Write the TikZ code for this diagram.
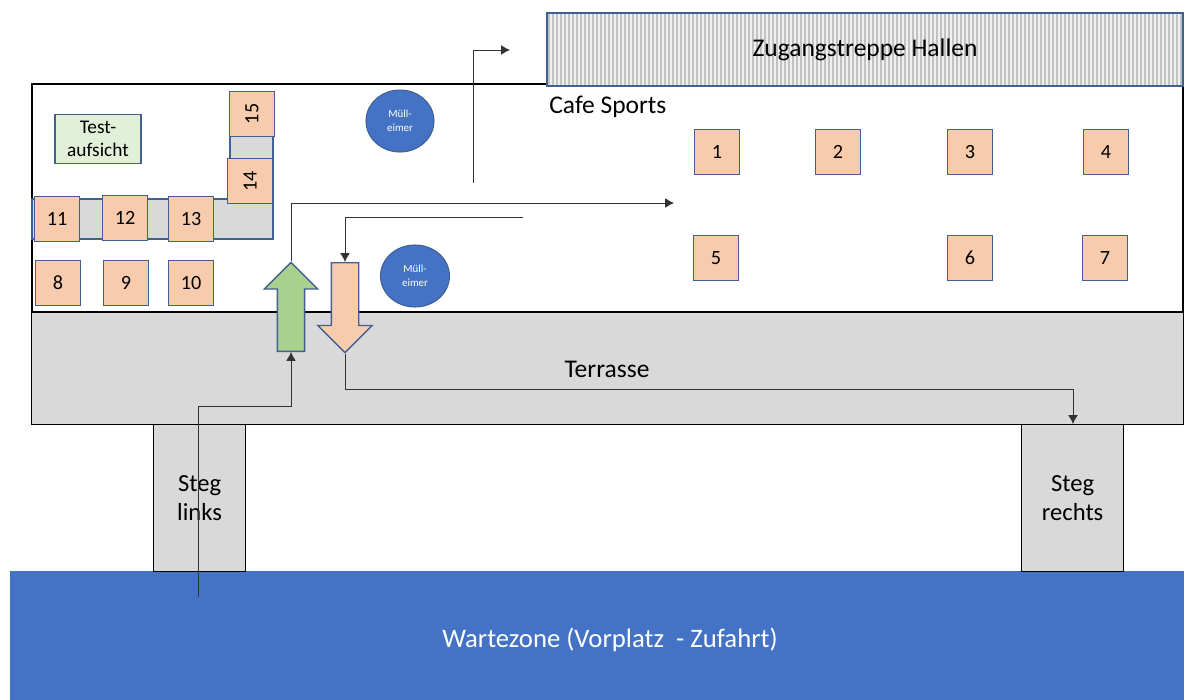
\documentclass[tikz,border=0pt]{standalone}
\usepackage{fontspec}
\setmainfont{Carlito}
\usetikzlibrary{shapes.geometric,shapes.arrows,arrows.meta}
\definecolor{rand}{HTML}{41608F}
\definecolor{tisch}{HTML}{F8CBAD}
\definecolor{grau}{HTML}{D9D9D9}
\definecolor{blau}{HTML}{4472C4}
\definecolor{gruen}{HTML}{A9D18E}
\definecolor{hellgruen}{HTML}{E2F0D9}
\definecolor{linie}{HTML}{333333}
\tikzset{
  zone/.style={draw=black,line width=0.7pt,fill=grau,inner sep=0pt,anchor=north west},
  steg/.style={zone,minimum width=1.84cm,minimum height=2.94cm,align=center,font=\fontsize{14}{17}\selectfont},
  titel/.style={font=\fontsize{14.5}{17}\selectfont},
  tisch/.style={draw=rand,line width=0.8pt,fill=tisch,minimum size=0.9cm,inner sep=0pt,font=\fontsize{11.5}{14}\selectfont},
  eimer/.style={ellipse,draw=rand,line width=0.6pt,fill=blau,text=white,inner sep=0pt,
    minimum width=1.38cm,minimum height=1.24cm,align=center,font=\fontsize{6.2}{8}\selectfont},
  weg/.style={draw=linie,line width=0.5pt,-{Latex[length=5pt,width=5.5pt]}},
  pfeil/.style={single arrow,draw=rand,line width=0.8pt,inner xsep=0pt,inner ysep=0.26cm,minimum width=1.04cm,
    single arrow head extend=0.26cm,anchor=tail}
}
\begin{document}
\begin{tikzpicture}[x=0.02cm,y=-0.02cm]
  \useasboundingbox (0,0) rectangle (1184,700);

  % Flaechen
  \draw[black,line width=0.7pt,fill=white] (32,84) rectangle (1183,312);
  \node[zone,minimum width=23.04cm,minimum height=2.24cm] (terrasse) at (31,312) {};
  \node[fill=blau,draw=blau,minimum width=23.48cm,minimum height=2.58cm,anchor=north west,inner sep=0pt] (wartezone) at (10,571) {};
  \node[steg] (steglinks) at (153,424) {Steg\\links};
  \node[steg,minimum width=2.04cm] (stegrechts) at (1021,424) {Steg\\rechts};
  \node[titel,text=white,font=\fontsize{15.2}{17}\selectfont] (wartetext) at (610,640) {Wartezone (Vorplatz~ - Zufahrt)};
  \node[titel] (terrassetext) at (607,369) {Terrasse};

  % Treppe
  \fill[black!6] (547,13) rectangle (1183,86);
  \foreach \sx in {549,553,...,1181}
    \draw[black!24,line width=0.9pt] (\sx,14) -- (\sx,85);
  \draw[draw=rand,line width=0.8pt] (547,13) rectangle (1183,86);
  \node[titel] (treppe) at (865,50) {Zugangstreppe Hallen};
  \node[titel,anchor=west,inner sep=0pt] (cafe) at (549,107) {Cafe Sports};

  % Tische
  \draw[draw=rand,line width=0.8pt,fill=grau] (32,199) rectangle (273,239);
  \draw[draw=rand,line width=0.8pt,fill=grau] (230,92) rectangle (273,199);
  \draw[draw=grau,line width=0.9pt] (231,199) -- (272,199);
  \foreach \nr/\px/\py in {1/717/152,2/838/152,3/970/152,4/1106/152,5/716/258,6/970/258,7/1105/258,
    8/58/283,9/126/283,10/191/283,11/57/219,12/125/218,13/191/219}
    \node[tisch] (t\nr) at (\px,\py) {\nr};
  \node[tisch,rotate=90] (t14) at (250,181) {14};
  \node[tisch,rotate=90] (t15) at (252,114) {15};
  \node[draw=rand,line width=0.8pt,fill=hellgruen,minimum width=1.72cm,minimum height=0.98cm,inner sep=0pt,align=center,font=\fontsize{11}{13.5}\selectfont] (aufsicht) at (98,139) {Test-\\aufsicht};

  % Eimer
  \node[eimer,minimum width=1.36cm] (eimera) at (400,121) {Müll-\\eimer};
  \node[eimer] (eimerb) at (415,276) {Müll-\\eimer};

  % Eingang und Ausgang
  \node[pfeil,fill=gruen,rotate=90,minimum height=1.78cm] (rein) at (291,352) {};
  \node[pfeil,fill=tisch,rotate=-90,minimum height=1.8cm,minimum width=1.08cm,single arrow head extend=0.27cm] (raus) at (345,262) {};

  % Wege
  \coordinate (startlinks) at (198,597);
  \coordinate (endrechts) at (1073,424);
  \coordinate (endcafe) at (674,203);
  \coordinate (starttisch) at (523,217);
  \coordinate (starttreppe) at (473,183);
  \coordinate (endtreppe) at (510,50);
  \draw[weg] (startlinks) |- (291,406) -- (rein.tail);
  \draw[weg] (rein.tip) |- (endcafe);
  \draw[weg] (starttisch) -| (raus.tail);
  \draw[weg] (raus.tip) |- (endrechts |- 0,389) -- (endrechts);
  \draw[weg] (starttreppe) |- (endtreppe);
\end{tikzpicture}
\end{document}
